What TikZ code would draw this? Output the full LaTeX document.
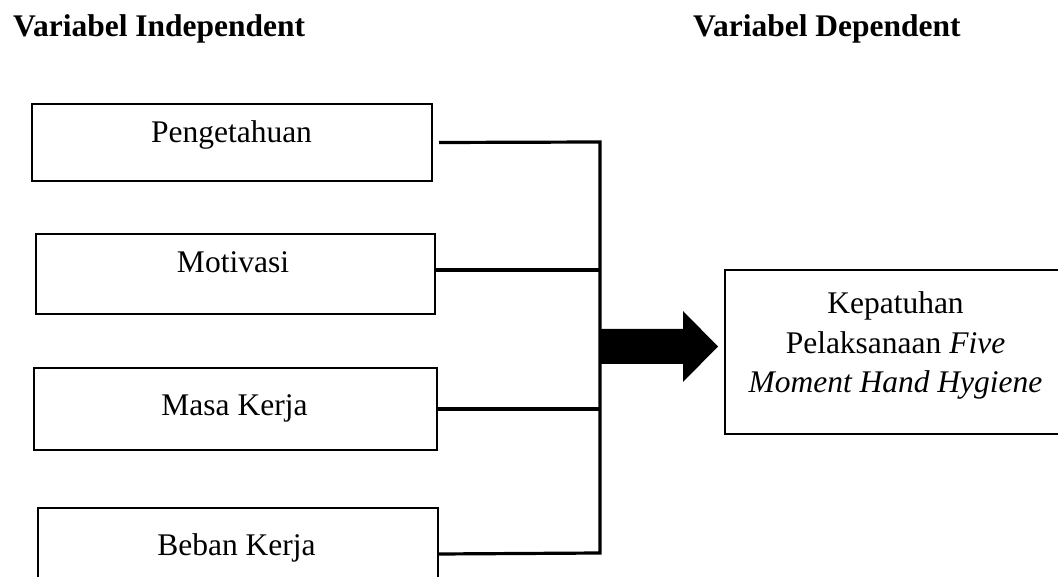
\documentclass[tikz,border=0pt]{standalone}
\usepackage{fontspec}
\setmainfont{Liberation Serif}
\begin{document}
\begin{tikzpicture}[x=1pt,y=-1pt,
  varbox/.style={draw=black,line width=2pt,inner sep=0pt,anchor=north west},
  lbl/.style={anchor=base,inner sep=0pt,font=\fontsize{31.5}{39.5}\selectfont},
  head/.style={anchor=base west,inner sep=0pt,font=\fontsize{31.5}{39.5}\selectfont\bfseries},
  conn/.style={draw=black,line width=3.2pt}]
\useasboundingbox (0,0) rectangle (1058,577);
\clip (0,0) rectangle (1058,577);
% headers
\node[head] (hi) at (13,37) {Variabel Independent};
\node[head] (hd) at (693,37) {Variabel Dependent};
% independent boxes
\node[varbox,minimum width=400pt,minimum height=77pt] (b1) at (31,103) {};
\node[varbox,minimum width=399pt,minimum height=80pt] (b2) at (35,233) {};
\node[varbox,minimum width=403pt,minimum height=82pt] (b3) at (33,367) {};
\node[varbox,minimum width=400pt,minimum height=92pt] (b4) at (37,507) {};
\node[lbl] (t1) at (231.5,143) {Pengetahuan};
\node[lbl] (t2) at (233,273) {Motivasi};
\node[lbl] (t3) at (234.5,415) {Masa Kerja};
\node[lbl] (t4) at (236.5,555) {Beban Kerja};
% dependent box (right side runs past the edge)
\node[varbox,minimum width=380pt,minimum height=164pt] (dep) at (724,269) {};
\node[lbl,anchor=north,align=center] (td) at (895.5,291.5)
  {Kepatuhan\\Pelaksanaan \textit{Five}\\\textit{Moment Hand Hygiene}};
% bus
\coordinate (top) at (600,142);
\coordinate (bot) at (600,553);
\draw[conn] ([xshift=6pt]b1.east) -- (top) -- (bot) -- (b4.east);
\draw[conn] ([yshift=4pt]b2.east) -- ([yshift=4pt]b2.east -| top);
\draw[conn] (b3.east) -- (b3.east -| top);
% big arrow
\coordinate (as) at (600,346.5);
\fill[black] ([yshift=17.5pt]as) -- ++(83,0) -- ++(0,-18) -- ([xshift=-6pt]dep.west |- as)
  -- ([xshift=83pt,yshift=-35.5pt]as) -- ++(0,-18) -- ([yshift=-17.5pt]as) -- cycle;
\end{tikzpicture}
\end{document}
